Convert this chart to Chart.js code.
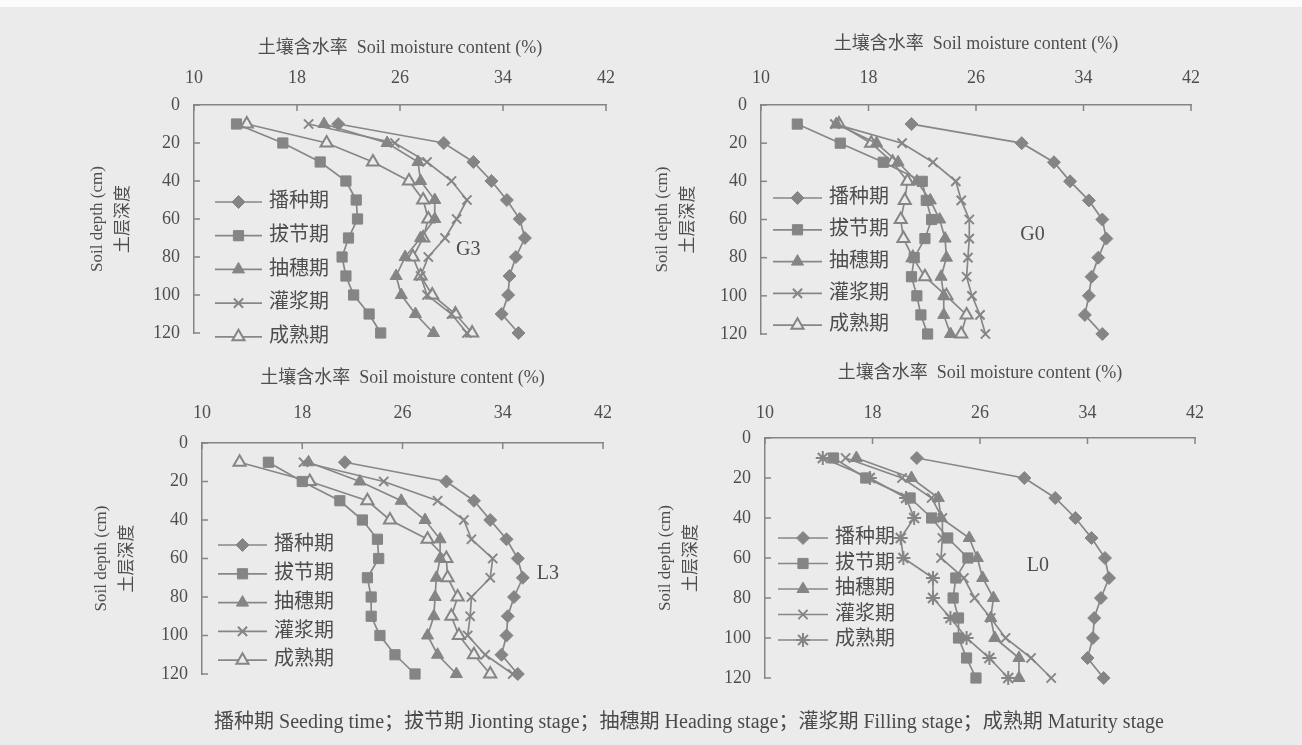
<!DOCTYPE html>
<html><head><meta charset="utf-8">
<script src="https://cdn.jsdelivr.net/npm/chart.js@4.4.1/dist/chart.umd.min.js"></script>
<style>
html,body{margin:0;padding:0;background:#ebebeb;width:1302px;height:745px;overflow:hidden;position:relative;}
canvas{position:absolute;}
#topstrip{position:absolute;left:0;top:0;width:1302px;height:7px;background:#fbfbfb;}
#caption{position:absolute;left:0;width:1378px;top:705px;text-align:center;font:20px "Liberation Serif","Noto Sans CJK SC",serif;color:#4a4a4a;white-space:nowrap;}
</style></head><body>
<div id="topstrip"></div>
<canvas id="pG3"></canvas><canvas id="pG0"></canvas><canvas id="pL3"></canvas><canvas id="pL0"></canvas>
<div id="caption"></div>
<script>
// ---------- data ----------
const depths = [10,20,30,40,50,60,70,80,90,100,110,120];
const xTickValues = [10,18,26,34,42];
const yTickValues = [0,20,40,60,80,100,120];
const stageNames = ['播种期','拔节期','抽穗期','灌浆期','成熟期'];
const stageEnglish = ['Seeding time','Jionting stage','Heading stage','Filling stage','Maturity stage'];
const xTitle = '土壤含水率  Soil moisture content (%)';
const yTitle = ['Soil depth (cm)','土层深度'];

const g3Seeding  = [21.2,29.4,31.7,33.1,34.3,35.3,35.7,35.0,34.5,34.4,33.9,35.2];
const g3Jointing = [13.3,16.9,19.8,21.8,22.6,22.7,22.0,21.5,21.8,22.4,23.6,24.5];
const g3Heading  = [20.1,25.0,27.4,27.6,28.7,28.7,27.6,26.4,25.7,26.1,27.2,28.6];
const g3Filling  = [18.9,25.6,28.1,30.0,31.2,30.4,29.5,28.2,27.6,28.1,30.0,31.2];
const g3Maturity = [14.1,20.3,23.9,26.7,27.8,28.2,27.8,27.0,27.6,28.5,30.3,31.6];

const g0Seeding  = [21.2,29.4,31.8,33.0,34.4,35.4,35.7,35.1,34.6,34.4,34.1,35.4];
const g0Jointing = [12.7,15.9,19.1,22.0,22.3,22.7,22.2,21.4,21.2,21.6,21.9,22.4];
const g0Heading  = [15.6,18.6,20.2,21.6,22.6,23.3,23.7,23.8,23.4,23.6,23.6,24.1];
const g0Filling  = [15.5,20.5,22.8,24.5,24.9,25.5,25.5,25.4,25.3,25.7,26.3,26.7];
const g0Maturity = [15.8,18.2,19.8,20.9,20.7,20.4,20.6,21.3,22.2,23.8,25.3,24.9];

const l3Seeding  = [21.4,29.5,31.7,33.0,34.3,35.2,35.6,34.9,34.4,34.3,33.9,35.2];
const l3Jointing = [15.3,18.0,21.0,22.8,24.0,24.1,23.2,23.5,23.5,24.2,25.4,27.0];
const l3Heading  = [18.5,22.6,25.9,27.8,29.0,29.0,28.7,28.6,28.5,28.0,28.8,30.3];
const l3Filling  = [18.1,24.5,28.8,30.9,31.5,33.2,33.0,31.5,31.4,31.2,32.6,34.8];
const l3Maturity = [13.0,18.6,23.2,25.0,28.0,29.5,29.6,30.4,29.9,30.5,31.7,33.0];

const l0Seeding  = [21.3,29.3,31.6,33.1,34.3,35.3,35.6,35.0,34.5,34.4,34.0,35.2];
const l0Jointing = [15.1,17.5,20.8,22.4,23.6,25.1,24.2,24.0,24.4,24.4,25.0,25.7];
const l0Heading  = [16.8,20.9,22.9,23.1,25.2,25.8,26.2,27.0,26.8,27.1,28.9,28.9];
const l0Filling  = [16.0,20.2,22.4,23.2,23.2,23.1,24.8,25.6,26.8,27.9,29.8,31.3];
const l0Maturity = [14.3,17.8,20.5,21.1,20.1,20.3,22.5,22.5,23.8,25.0,26.7,28.1];

// ---------- styles ----------
const paper = '#ebebeb', markColor = '#858585', lineColor = '#878787', axisColor = '#858585', textColor = '#4e4e4e';
const fontFam = '"Liberation Serif","Noto Sans CJK SC",serif';
function stylesFor(lastStyle){
  return [
    {pointStyle:'rectRot', pointRadius:6.5, pointBackgroundColor:markColor, pointBorderColor:markColor, pointBorderWidth:1},
    {pointStyle:'rect', pointRadius:7.2, pointBackgroundColor:markColor, pointBorderColor:markColor, pointBorderWidth:1},
    {pointStyle:'triangle', pointRadius:7, pointBackgroundColor:markColor, pointBorderColor:markColor, pointBorderWidth:1},
    {pointStyle:'crossRot', pointRadius:6.5, pointBackgroundColor:markColor, pointBorderColor:markColor, pointBorderWidth:2},
    lastStyle === 'star'
      ? {pointStyle:'star', pointRadius:7, pointBackgroundColor:markColor, pointBorderColor:markColor, pointBorderWidth:2}
      : {pointStyle:'triangle', pointRadius:7, pointBackgroundColor:paper, pointBorderColor:markColor, pointBorderWidth:2}
  ];
}

const panelDecor = {
  id:'panelDecor',
  afterDraw(chart, args, o){
    const {ctx, chartArea:a, scales:{x, y}} = chart;
    ctx.save();
    ctx.strokeStyle = axisColor; ctx.lineWidth = 1.5;
    x.ticks.forEach(t => { const p = x.getPixelForValue(t.value); ctx.beginPath(); ctx.moveTo(p, a.top); ctx.lineTo(p, a.top + 6); ctx.stroke(); });
    y.ticks.forEach(t => { const p = y.getPixelForValue(t.value); ctx.beginPath(); ctx.moveTo(a.left, p); ctx.lineTo(a.left + 6, p); ctx.stroke(); });
    // legend
    ctx.font = '20px ' + fontFam; ctx.textBaseline = 'middle'; ctx.textAlign = 'left';
    chart.data.datasets.forEach((ds, i) => {
      const yy = a.top + o.legTop + i * o.legGap, x0 = a.left + o.legLeft;
      ctx.strokeStyle = lineColor; ctx.lineWidth = 1.7;
      ctx.beginPath(); ctx.moveTo(x0, yy); ctx.lineTo(x0 + o.legLen, yy); ctx.stroke();
      ctx.fillStyle = ds.pointBackgroundColor; ctx.strokeStyle = ds.pointBorderColor; ctx.lineWidth = ds.pointBorderWidth;
      Chart.helpers.drawPoint(ctx, {pointStyle: ds.pointStyle, radius: ds.pointRadius, borderWidth: ds.pointBorderWidth, rotation: 0}, x0 + o.legLen / 2, yy);
      ctx.fillStyle = textColor;
      ctx.fillText(ds.label, x0 + o.legLen + 7, yy);
    });
    ctx.font = '20px ' + fontFam; ctx.fillStyle = textColor; ctx.textAlign = 'center';
    ctx.fillText(o.tag, x.getPixelForValue(o.tagX), y.getPixelForValue(o.tagY));
    ctx.restore();
  }
};

function makePanel(id, geo, series, lastStyle, decor){
  const [L, T, R, B] = geo.area;
  const padL = 115, padT = 80, padR = 30, padB = 28;
  const cv = document.getElementById(id);
  const W = R - L + padL + padR, H = B - T + padT + padB;
  cv.width = W; cv.height = H;
  cv.style.left = (L - padL) + 'px'; cv.style.top = (T - padT) + 'px';
  cv.style.width = W + 'px'; cv.style.height = H + 'px';
  const st = stylesFor(lastStyle);
  new Chart(cv, {
    type:'scatter',
    data:{ datasets: series.map((vals, i) => Object.assign({
      label: stageNames[i],
      data: vals.map((v, k) => ({x: v, y: depths[k]})),
      showLine: true, borderColor: lineColor, borderWidth: 1.7, tension: 0, clip: 12
    }, st[i])) },
    options:{
      responsive:false, animation:false, devicePixelRatio:1,
      layout:{padding:{left:0, top:0, right:padR, bottom:padB}},
      plugins:{legend:{display:false}, tooltip:{enabled:false}, panelDecor: decor},
      scales:{
        x:{type:'linear', position:'top', min:10, max:42,
           afterBuildTicks: s => { s.ticks = xTickValues.map(v => ({value:v})); },
           afterFit: s => { s.height = padT; s.paddingLeft = 0; s.paddingRight = 0; },
           grid:{display:true, drawOnChartArea:false, drawTicks:false},
           border:{display:true, color:axisColor, width:1.5},
           ticks:{padding:geo.xTickPad, color:textColor, font:{family:fontFam, size:18}},
           title:{display:true, text:xTitle, color:textColor, padding:{top:geo.xTitlePad, bottom:0}, font:{family:fontFam, size:18}}},
        y:{type:'linear', position:'left', reverse:true, min:0, max:120,
           afterBuildTicks: s => { s.ticks = yTickValues.map(v => ({value:v})); },
           afterFit: s => { s.width = padL; s.paddingTop = 0; s.paddingBottom = 0; },
           grid:{display:true, drawOnChartArea:false, drawTicks:false},
           border:{display:true, color:axisColor, width:1.5},
           ticks:{padding:14, color:textColor, font:{family:fontFam, size:18}},
           title:{display:true, text:yTitle, color:textColor, padding:{top:geo.yTitlePad, bottom:0}, font:{family:fontFam, size:17, lineHeight:1.5}}}
      }
    },
    plugins:[panelDecor]
  });
}

makePanel('pG3', {area:[194,105,606,333], xTickPad:16, xTitlePad:12, yTitlePad:6},
  [g3Seeding,g3Jointing,g3Heading,g3Filling,g3Maturity], 'tri',
  {legTop:97, legGap:33.7, legLeft:21, legLen:47, tag:'G3', tagX:31.3, tagY:76});
makePanel('pG0', {area:[761,105,1191,334], xTickPad:16, xTitlePad:8, yTitlePad:4},
  [g0Seeding,g0Jointing,g0Heading,g0Filling,g0Maturity], 'tri',
  {legTop:93, legGap:31.8, legLeft:12, legLen:49, tag:'G0', tagX:30.2, tagY:68});
makePanel('pL3', {area:[202,443,603,674], xTickPad:19, xTitlePad:4, yTitlePad:2},
  [l3Seeding,l3Jointing,l3Heading,l3Filling,l3Maturity], 'tri',
  {legTop:102, legGap:28.8, legLeft:16, legLen:49, tag:'L3', tagX:37.6, tagY:68});
makePanel('pL0', {area:[765,438,1195,678], xTickPad:14, xTitlePad:4, yTitlePad:3},
  [l0Seeding,l0Jointing,l0Heading,l0Filling,l0Maturity], 'star',
  {legTop:100, legGap:25.5, legLeft:13, legLen:50, tag:'L0', tagX:30.3, tagY:64});

document.getElementById('caption').textContent =
  stageNames.map((n, i) => n + ' ' + stageEnglish[i]).join('；');
</script>
</body></html>
